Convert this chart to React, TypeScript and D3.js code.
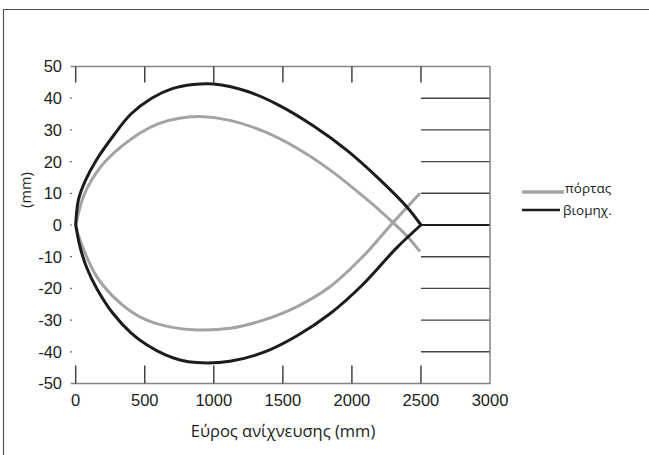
import * as d3 from 'd3';
import { useEffect, useRef } from 'react';

// values (x in mm, y in mm)
const blackUpperX = [0, 20, 70, 150, 270, 400, 550, 700, 850, 1000, 1240, 1480, 1720, 1960, 2200, 2400, 2500];
const blackUpperY = [0, 8, 14, 20.5, 28, 35, 40, 43, 44.3, 44.5, 42.2, 37.6, 31.3, 23.7, 14.4, 5.6, 0];
const blackLowerX = [0, 31, 80, 152, 272, 400, 514, 650, 755, 876, 1117, 1359, 1600, 1841, 2083, 2324, 2500];
const blackLowerY = [0, -6.8, -13.5, -20, -28, -34, -37.8, -41, -42.6, -43.4, -43, -40.2, -35, -28, -18.6, -7.2, 0];
const grayUpperX = [0, 55, 120, 224, 466, 600, 750, 900, 1117, 1359, 1600, 1841, 2083, 2252, 2397, 2493];
const grayUpperY = [0, 8.9, 14.5, 20.5, 29, 32, 33.7, 34.2, 33, 29.6, 24.3, 17.4, 9, 2.6, -3.4, -8.4];
const grayLowerX = [0, 31, 152, 272, 400, 514, 700, 876, 1117, 1359, 1600, 1841, 2083, 2276, 2493];
const grayLowerY = [0, -4.7, -16.3, -22.6, -27.3, -30, -32.3, -33.1, -32.6, -30, -25.8, -19.5, -9.8, -0.3, 10];

const xTicks = [0, 500, 1000, 1500, 2000, 2500, 3000];
const yTicks = [50, 40, 30, 20, 10, 0, -10, -20, -30, -40, -50];
const seriesNames = ['πόρτας', 'βιομηχ.'];
const seriesColors = ['#a3a3a3', '#1c1c1c'];

const xTitle = 'Εύρος ανίχνευσης (mm)';
const yTitle = '(mm)';

const zip = (xs: number[], ys: number[]) => xs.map((x, i) => [x, ys[i]] as [number, number]);

export default function App() {
  const width = 649;
  const height = 455;
  const ref = useRef<SVGSVGElement>(null);

  useEffect(() => {
    const svg = d3.select(ref.current);
    svg.selectAll('*').remove();

    const x = d3.scaleLinear().domain([0, 3000]).range([75.7, 490]);
    const y = d3.scaleLinear().domain([-50, 50]).range([383.5, 66.5]);
    const numFont = '"Liberation Sans", Arial, sans-serif';
    const textFont = '"Open Sans", "Noto Sans", sans-serif';

    // outer frame (left and top only)
    svg
      .append('path')
      .attr('d', `M3.5,${height} V9.5 H${width}`)
      .attr('fill', 'none')
      .attr('stroke', '#555')
      .attr('stroke-width', 1.2);

    // gridlines only on the right part
    const g = svg.append('g');
    g.selectAll('line.grid')
      .data(yTicks.filter((d) => d !== 50 && d !== -50))
      .join('line')
      .attr('x1', x(2500))
      .attr('x2', x(3000))
      .attr('y1', (d) => y(d))
      .attr('y2', (d) => y(d))
      .attr('stroke', (d) => (d === 0 ? '#1c1c1c' : '#444'))
      .attr('stroke-width', (d) => (d === 0 ? 2.2 : 1.4));

    // plot border: top, right, bottom
    g.append('path')
      .attr('d', `M${x(0) - 5},${y(50)} H${x(3000)} V${y(-50)} H${x(0) - 5}`)
      .attr('fill', 'none')
      .attr('stroke', '#858585')
      .attr('stroke-width', 1.5);

    // x ticks at top and bottom, pointing inward
    const inner = xTicks.filter((d) => d < 3000);
    g.append('g')
      .selectAll('line')
      .data(inner)
      .join('line')
      .attr('x1', (d) => x(d))
      .attr('x2', (d) => x(d))
      .attr('y1', y(50))
      .attr('y2', y(50) + 16)
      .attr('stroke', '#444')
      .attr('stroke-width', 1.5);
    g.append('g')
      .selectAll('line')
      .data(inner)
      .join('line')
      .attr('x1', (d) => x(d))
      .attr('x2', (d) => x(d))
      .attr('y1', y(-50))
      .attr('y2', y(-50) - 18)
      .attr('stroke', '#444')
      .attr('stroke-width', 1.5);

    // y ticks: tiny marks
    g.append('g')
      .selectAll('line')
      .data(yTicks.filter((d) => d !== 50 && d !== -50))
      .join('line')
      .attr('x1', x(0) - 5.5)
      .attr('x2', x(0) - 3.8)
      .attr('y1', (d) => y(d))
      .attr('y2', (d) => y(d))
      .attr('stroke', '#555')
      .attr('stroke-width', 1.2);

    // tick labels
    g.append('g')
      .selectAll('text')
      .data(yTicks)
      .join('text')
      .attr('x', 62)
      .attr('y', (d) => y(d))
      .attr('dy', '0.36em')
      .attr('text-anchor', 'end')
      .attr('font-family', numFont)
      .attr('font-size', 16.5)
      .attr('fill', '#222')
      .text((d) => d);
    g.append('g')
      .selectAll('text')
      .data(xTicks)
      .join('text')
      .attr('x', (d) => x(d))
      .attr('y', 406)
      .attr('text-anchor', 'middle')
      .attr('font-family', numFont)
      .attr('font-size', 16.5)
      .attr('fill', '#222')
      .text((d) => d);

    // axis titles
    svg
      .append('text')
      .attr('x', 283)
      .attr('y', 437)
      .attr('text-anchor', 'middle')
      .attr('font-family', textFont)
      .attr('font-size', 16.5)
      .attr('fill', '#222')
      .text(xTitle);
    svg
      .append('text')
      .attr('transform', 'translate(31,190) rotate(-90)')
      .attr('text-anchor', 'middle')
      .attr('font-family', textFont)
      .attr('font-size', 14.5)
      .attr('fill', '#222')
      .text(yTitle);

    // series
    const line = d3
      .line<[number, number]>()
      .x((d) => x(d[0]))
      .y((d) => y(d[1]))
      .curve(d3.curveCatmullRom.alpha(0.5));

    const branches = [
      { pts: zip(grayUpperX, grayUpperY), color: seriesColors[0] },
      { pts: zip(grayLowerX, grayLowerY), color: seriesColors[0] },
      { pts: zip(blackUpperX, blackUpperY), color: seriesColors[1] },
      { pts: zip(blackLowerX, blackLowerY), color: seriesColors[1] },
    ];
    svg
      .append('g')
      .selectAll('path')
      .data(branches)
      .join('path')
      .attr('d', (d) => line(d.pts))
      .attr('fill', 'none')
      .attr('stroke', (d) => d.color)
      .attr('stroke-width', 3)
      .attr('stroke-linejoin', 'round');

    // legend
    const legend = svg.append('g');
    const rows = [192, 210];
    legend
      .selectAll('line')
      .data(seriesNames)
      .join('line')
      .attr('x1', 522)
      .attr('x2', (_, i) => (i === 0 ? 564 : 560))
      .attr('y1', (_, i) => rows[i])
      .attr('y2', (_, i) => rows[i])
      .attr('stroke', (_, i) => seriesColors[i])
      .attr('stroke-width', (_, i) => (i === 0 ? 3.5 : 2.5));
    legend
      .selectAll('text')
      .data(seriesNames)
      .join('text')
      .attr('x', (_, i) => (i === 0 ? 565 : 563))
      .attr('y', (_, i) => (i === 0 ? 188 : 210))
      .attr('dy', '0.35em')
      .attr('font-family', textFont)
      .attr('font-size', 13.5)
      .attr('fill', '#222')
      .text((d) => d);
  }, []);

  return (
    <svg
      ref={ref}
      width={width}
      height={height}
      style={{ position: 'absolute', left: 0, top: 0, background: '#fff' }}
    />
  );
}
